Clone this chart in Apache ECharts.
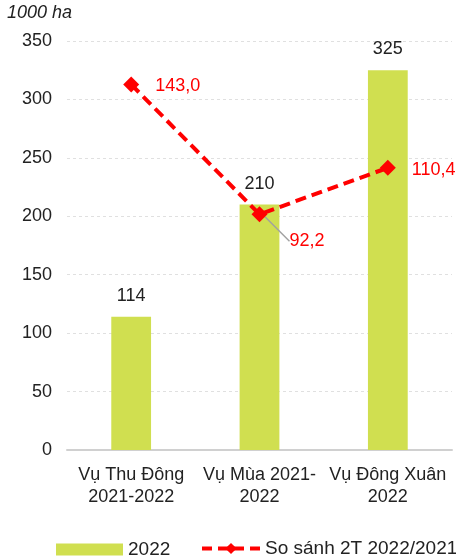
<!DOCTYPE html>
<html><head><meta charset="utf-8">
<script src="https://cdn.jsdelivr.net/npm/echarts@6/dist/echarts.min.js"></script>
<style>html,body{margin:0;padding:0;background:#fff}#c{width:456px;height:558px}</style>
</head><body><div id="c"></div>
<script>
const categories = ['Vụ Thu Đông\n2021-2022', 'Vụ Mùa 2021-\n2022', 'Vụ Đông Xuân\n2022'];
const barValues = [114, 210, 325];
const lineValues = [143.0, 92.2, 110.4];
const barName = '2022';
const lineName = 'So sánh 2T 2022/2021';
const unitLabel = '1000 ha';

const font = 'Liberation Sans, Arial, sans-serif';
const chart = echarts.init(document.getElementById('c'));
chart.setOption({
  animation: false,
  textStyle: { fontFamily: font },
  grid: { left: 67, right: 4, top: 41, bottom: 108 },
  graphic: [{ type: 'text', left: 7, top: 4, style: { text: unitLabel, font: 'italic 18px ' + font, fill: '#222' } }],
  legend: [{
    top: 535, left: 51, itemWidth: 67, itemHeight: 12,
    textStyle: { fontSize: 19, color: '#222', fontFamily: font },
    data: [{ name: barName, icon: 'rect' }]
  }, {
    top: 534, left: 195, itemWidth: 58, itemHeight: 14,
    textStyle: { fontSize: 19, color: '#222', fontFamily: font },
    lineStyle: { width: 4, type: [10, 6] },
    data: [{ name: lineName }]
  }],
  xAxis: {
    type: 'category', data: categories,
    axisLine: { lineStyle: { color: '#d0d0d0', width: 2 } },
    axisTick: { show: false },
    axisLabel: { fontSize: 18, color: '#222', lineHeight: 22, margin: 14, interval: 0 }
  },
  yAxis: [{
    type: 'value', min: 0, max: 350, interval: 50,
    axisLine: { show: false }, axisTick: { show: false },
    axisLabel: { fontSize: 18, color: '#222', margin: 15 },
    splitLine: { lineStyle: { color: '#e0e0e0', type: [3, 3] } }
  }, {
    type: 'value', min: 0, max: 160, show: false, splitLine: { show: false }
  }],
  series: [{
    name: barName, type: 'bar', data: barValues, barWidth: '31%',
    itemStyle: { color: '#d0df50' },
    label: { show: true, position: 'top', fontSize: 18, color: '#222', distance: 12 }
  }, {
    name: lineName, type: 'line', yAxisIndex: 1,
    data: lineValues.map((v, i) => i === 1
      ? { value: v, labelLine: { show: true, lineStyle: { color: '#a0a0a0', width: 1.5 } } }
      : { value: v, labelLine: { show: false } }),
    symbol: 'diamond', symbolSize: 16,
    lineStyle: { color: '#ff0000', width: 4, type: [11, 6] },
    itemStyle: { color: '#ff0000' },
    label: {
      show: true, position: 'right', distance: 16, fontSize: 18, color: '#ff0000',
      formatter: p => p.value.toFixed(1).replace('.', ',')
    },
    labelLine: { show: false },
    labelLayout: p => p.dataIndex === 1 ? { dx: 6, dy: 27 } : { dy: 2 },
    z: 5
  }]
});
</script></body></html>
